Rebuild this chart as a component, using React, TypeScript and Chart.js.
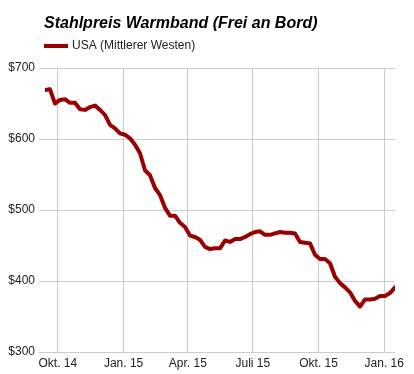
import React, { useEffect, useRef } from "react";
import { Chart, registerables } from "chart.js";

Chart.register(...registerables);

const TITLE = "Stahlpreis Warmband (Frei an Bord)";
const SERIES_NAME = "USA (Mittlerer Westen)";
const FIRST_WEEK = "2014-09-13";
const AXIS_ORIGIN = "2014-10-01";

const priceValues = [
  669, 670, 650, 655, 656, 651, 651, 642, 641, 645, 647, 641, 634, 620, 615, 608,
  606, 601, 592, 580, 556, 549, 531, 521, 503, 492, 492, 482, 476, 464, 462, 458,
  448, 445, 446, 446, 457, 455, 459, 459, 462, 466, 469, 470, 465, 465, 467, 469,
  468, 468, 467, 455, 454, 453, 437, 431, 431, 425, 406, 397, 391, 384, 372, 364,
  374, 374, 375, 379, 379, 383, 391,
];

const tickDates = ["2014-10-01", "2015-01-01", "2015-04-01", "2015-07-01", "2015-10-01", "2016-01-01"];
const tickLabels = ["Okt. 14", "Jan. 15", "Apr. 15", "Juli 15", "Okt. 15", "Jan. 16"];
const yTicks = [300, 400, 500, 600, 700];

const DAY = 86400000;
const dayOf = (s: string) => Math.round((Date.parse(s + "T00:00:00Z") - Date.parse(AXIS_ORIGIN + "T00:00:00Z")) / DAY);

const LINE_COLOR = "#990000";
const FONT = "'Liberation Sans', Arial, sans-serif";

export default function App() {
  const ref = useRef<HTMLCanvasElement | null>(null);
  useEffect(() => {
    document.body.style.margin = "0";
    const start = dayOf(FIRST_WEEK);
    const points = priceValues.map((v, i) => ({ x: start + 7 * i, y: v }));
    const tickDays = tickDates.map(dayOf);

    const headerPlugin = {
      id: "header",
      afterDraw(chart: any) {
        const ctx = chart.ctx;
        ctx.save();
        ctx.fillStyle = "#000";
        ctx.font = `italic bold 16px ${FONT}`;
        ctx.textBaseline = "alphabetic";
        ctx.textAlign = "left";
        ctx.fillText(TITLE, 44, 28);
        ctx.strokeStyle = LINE_COLOR;
        ctx.lineWidth = 4;
        ctx.beginPath();
        ctx.moveTo(44, 46);
        ctx.lineTo(68, 46);
        ctx.stroke();
        ctx.fillStyle = "#222";
        ctx.font = `12px ${FONT}`;
        ctx.textBaseline = "middle";
        ctx.fillText(SERIES_NAME, 72, 46);
        ctx.restore();
      },
    };

    const chart = new Chart(ref.current!, {
      type: "line",
      data: {
        datasets: [
          {
            label: SERIES_NAME,
            data: points,
            borderColor: LINE_COLOR,
            backgroundColor: LINE_COLOR,
            borderWidth: 4,
            pointRadius: 0,
            tension: 0,
            borderJoinStyle: "round",
            borderCapStyle: "round",
          },
        ],
      },
      options: {
        animation: false,
        responsive: false,
        layout: { padding: { top: 68, right: 19, left: 0, bottom: 0 } },
        plugins: { legend: { display: false }, title: { display: false }, tooltip: { enabled: false } },
        scales: {
          x: {
            type: "linear",
            min: start,
            max: start + 7 * (priceValues.length - 1),
            border: { display: false },
            grid: { color: "#cccccc", lineWidth: 1, drawTicks: false },
            afterBuildTicks: (scale: any) => {
              scale.ticks = tickDays.map((d) => ({ value: d }));
            },
            afterFit: (scale: any) => {
              scale.height = 22;
            },
            ticks: {
              autoSkip: false,
              maxRotation: 0,
              padding: 4,
              color: "#222",
              font: { family: FONT, size: 12 },
              callback: (_v: any, i: number) => tickLabels[i],
            },
          },
          y: {
            type: "linear",
            min: 300,
            max: 700,
            border: { display: false },
            grid: { color: "#cccccc", lineWidth: 1, drawTicks: true, tickLength: 6 },
            afterBuildTicks: (scale: any) => {
              scale.ticks = yTicks.map((v) => ({ value: v }));
            },
            afterFit: (scale: any) => {
              scale.width = 45;
            },
            ticks: {
              padding: 4,
              color: "#222",
              font: { family: FONT, size: 12 },
              callback: (v: any) => "$" + v,
            },
          },
        },
      },
      plugins: [headerPlugin],
    } as any);
    return () => chart.destroy();
  }, []);
  return (
    <div style={{ width: 414, height: 374 }}>
      <canvas ref={ref} width={414} height={374} style={{ display: "block" }} />
    </div>
  );
}
